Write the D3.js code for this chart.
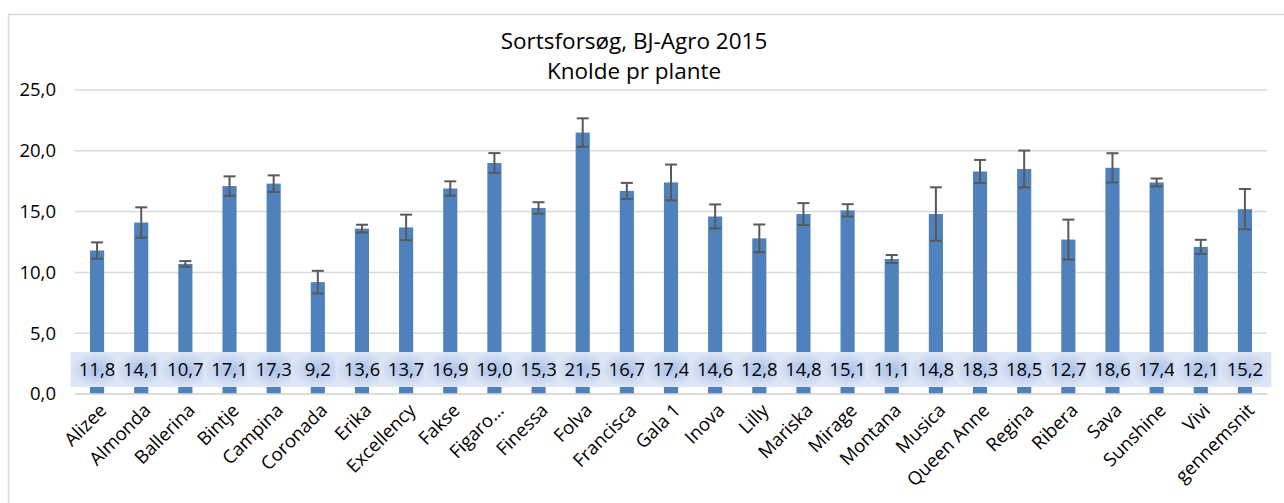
<!DOCTYPE html>
<html>
<head>
<meta charset="utf-8">
<script src="https://cdn.jsdelivr.net/npm/d3@7"></script>
<style>
  body { margin: 0; background: #fff; }
  text { font-family: "Open Sans", sans-serif; fill: #000; }
</style>
</head>
<body>
<div id="chart"></div>
<script>
var
  width = 1284,
  height = 503;

// sorter (kategorier)
var sorter = ["Alizee", "Almonda", "Ballerina", "Bintje", "Campina", "Coronada", "Erika",
  "Excellency", "Fakse", "Figaro…", "Finessa", "Folva", "Francisca", "Gala 1", "Inova",
  "Lilly", "Mariska", "Mirage", "Montana", "Musica", "Queen Anne", "Regina", "Ribera",
  "Sava", "Sunshine", "Vivi", "gennemsnit"];

// knolde pr plante
var knolde = [11.8, 14.1, 10.7, 17.1, 17.3, 9.2, 13.6, 13.7, 16.9, 19.0, 15.3, 21.5, 16.7,
  17.4, 14.6, 12.8, 14.8, 15.1, 11.1, 14.8, 18.3, 18.5, 12.7, 18.6, 17.4, 12.1, 15.2];

// fejlstreger (+/-)
var fejl = [0.67, 1.25, 0.23, 0.8, 0.68, 0.93, 0.32, 1.05, 0.59, 0.81, 0.47, 1.17, 0.66,
  1.47, 0.99, 1.14, 0.9, 0.51, 0.33, 2.2, 0.95, 1.52, 1.64, 1.2, 0.32, 0.58, 1.66];

var yTicks = [0, 5, 10, 15, 20, 25];

var titel = ["Sortsforsøg, BJ-Agro 2015", "Knolde pr plante"];

var margin = {left: 75, right: 17, top: 90, bottom: 109};

var dk = d3.formatLocale({decimal: ",", thousands: ".", grouping: [3], currency: ["", " kr"]});
var fmt = dk.format(".1f");

var svg = d3.select("#chart")
  .append("svg")
  .attr("width", width)
  .attr("height", height);

var defs = svg.append("defs");
var grad = defs.append("radialGradient").attr("id", "lblgrad");
grad.append("stop").attr("offset", "0%").attr("stop-color", "#a9c0e8");
grad.append("stop").attr("offset", "100%").attr("stop-color", "#dde6f5");

// ramme
svg.append("rect")
  .attr("x", 8.5).attr("y", 14.5)
  .attr("width", width).attr("height", height)
  .attr("fill", "none")
  .attr("stroke", "#d9d9d9")
  .attr("stroke-width", 1.5);

var x = d3.scaleBand()
  .domain(sorter)
  .range([margin.left, width - margin.right])
  .paddingInner(0.68)
  .paddingOuter(0.34);

var y = d3.scaleLinear()
  .domain([0, 25])
  .range([height - margin.bottom, margin.top]);

// gitterlinjer
svg.append("g")
  .selectAll("line")
  .data(yTicks)
  .enter().append("line")
  .attr("x1", margin.left).attr("x2", width - margin.right)
  .attr("y1", function(d) { return y(d); })
  .attr("y2", function(d) { return y(d); })
  .attr("stroke", "#d9d9d9")
  .attr("stroke-width", 1.5);

// y-akse
var yAxis = svg.append("g")
  .attr("transform", "translate(" + (margin.left - 19) + ",0)")
  .call(d3.axisLeft(y).tickValues(yTicks).tickFormat(fmt).tickSize(0).tickPadding(0));
yAxis.select(".domain").remove();
yAxis.selectAll("text")
  .style("font-family", "Open Sans")
  .attr("font-size", 18.5)
  .attr("fill", "#000");

// soejler
svg.append("g")
  .selectAll("rect")
  .data(knolde)
  .enter().append("rect")
  .attr("x", function(d, i) { return x(sorter[i]); })
  .attr("y", function(d) { return y(d); })
  .attr("width", x.bandwidth())
  .attr("height", function(d) { return y(0) - y(d); })
  .attr("fill", "#4f81bd");

// fejlstreger
var eb = svg.append("g")
  .attr("stroke", "#595959")
  .attr("stroke-width", 2);
knolde.forEach(function(v, i) {
  var cx = x(sorter[i]) + x.bandwidth() / 2;
  eb.append("line")
    .attr("x1", cx).attr("x2", cx)
    .attr("y1", y(v - fejl[i])).attr("y2", y(v + fejl[i]));
  [v - fejl[i], v + fejl[i]].forEach(function(e) {
    eb.append("line")
      .attr("x1", cx - 6).attr("x2", cx + 6)
      .attr("y1", y(e)).attr("y2", y(e));
  });
});

// dataetiketter (hver boks daekker den forriges tekst)
var lblW = 53, lblH = 35, lblY = 352;
knolde.forEach(function(v, i) {
  var cx = x(sorter[i]) + x.bandwidth() / 2;
  svg.append("rect")
    .attr("x", cx - lblW / 2)
    .attr("y", lblY)
    .attr("width", lblW)
    .attr("height", lblH)
    .attr("fill", "url(#lblgrad)");
  svg.append("text")
    .attr("x", cx)
    .attr("y", lblY + lblH / 2)
    .attr("dy", "0.36em")
    .attr("text-anchor", "middle")
    .attr("font-size", 18.5)
    .text(fmt(v));
});

// x-akse linje
svg.append("line")
  .attr("x1", margin.left).attr("x2", width - margin.right)
  .attr("y1", y(0)).attr("y2", y(0))
  .attr("stroke", "#d9d9d9")
  .attr("stroke-width", 1.5);

// kategorinavne
svg.append("g")
  .selectAll("text")
  .data(sorter)
  .enter().append("text")
  .attr("transform", function(d) {
    return "translate(" + (x(d) + x.bandwidth() / 2 + 6) + "," + (y(0) + 13) + ") rotate(-45)";
  })
  .attr("text-anchor", "end")
  .attr("dy", "0.35em")
  .attr("font-size", 18.5)
  .text(function(d) { return d; });

// titel
svg.append("g")
  .selectAll("text")
  .data(titel)
  .enter().append("text")
  .attr("x", 634)
  .attr("y", function(d, i) { return 49 + i * 30; })
  .attr("text-anchor", "middle")
  .attr("font-size", 22.5)
  .text(function(d) { return d; });
</script>
</body>
</html>
